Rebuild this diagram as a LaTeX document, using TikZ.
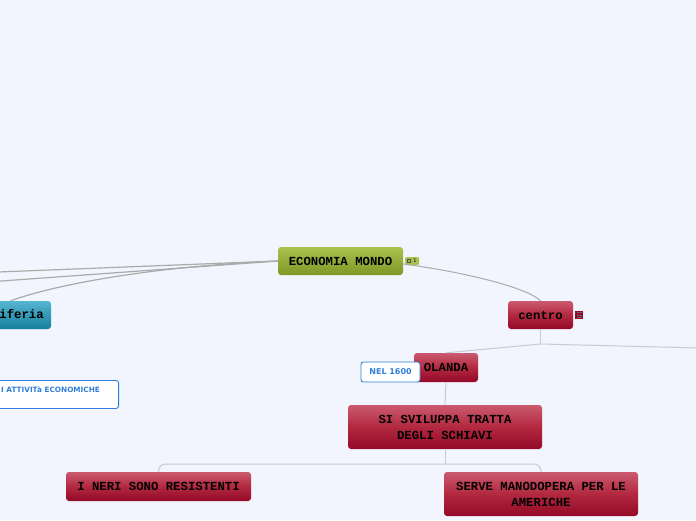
\documentclass[tikz,border=0pt]{standalone}
\usepackage{fontspec}
\setmonofont{Liberation Mono}
\setsansfont{DejaVu Sans}
\usepackage{tikz}
\usetikzlibrary{calc, positioning}

\definecolor{bgpage}{HTML}{F2F5FD}
\definecolor{redtop}{HTML}{CB5A6E}
\definecolor{redmid}{HTML}{B2283F}
\definecolor{redbot}{HTML}{940A28}
\definecolor{greentop}{HTML}{AAC24E}
\definecolor{greenbot}{HTML}{7E9826}
\definecolor{cyantop}{HTML}{55B6D1}
\definecolor{cyanbot}{HTML}{167E9A}
\definecolor{noteblue}{HTML}{2F7FDA}
\definecolor{linkgray}{HTML}{ABABAB}
\definecolor{sublinkgray}{HTML}{C7CAD3}

\begin{document}
\begin{tikzpicture}[
        x=1pt, y=-1pt,
        boxtext/.style={font=\ttfamily\bfseries\fontsize{12.3}{16}\selectfont, text=black, align=center},
        topic/.style={boxtext, rounded corners=3pt, inner sep=0pt},
        redtopic/.style={topic, top color=redtop, bottom color=redbot, middle color=redmid},
        greentopic/.style={topic, top color=greentop, bottom color=greenbot},
        cyantopic/.style={topic, top color=cyantop, bottom color=cyanbot},
        note/.style={draw=noteblue, fill=white, rounded corners=2.5pt, line width=0.9pt, inner sep=0pt},
        notetext/.style={font=\sffamily\bfseries, text=noteblue},
        link/.style={draw=linkgray, line width=1.2pt},
        sublink/.style={draw=sublinkgray, line width=1pt}
    ]
    \fill[bgpage] (0,0) rectangle (696,520);
    \useasboundingbox (0,0) rectangle (696,520);

    % ================= Centre =================
    \node[greentopic, minimum width=125, minimum height=28] (eco) at (340.5,261) {ECONOMIA MONDO};
    \node[fill=greentop, rounded corners=1pt, minimum width=14, minimum height=8, inner sep=0pt] (ecoicon) at (412,261) {};
    \draw[black!70, line width=0.5pt] (407.5,259) rectangle (410.5,262.5);
    \node[font=\sffamily\fontsize{5}{5}\selectfont, inner sep=0pt] (ecocount) at (415,261) {1};

    % off-screen ends
    \coordinate (offA) at (-40,273.5);
    \coordinate (offB) at (-40,284);

    % ================= Left side =================
    \node[cyantopic, minimum width=81, minimum height=28] (peri) at (10.5,315) {periferia};
    \node[note, minimum width=160, minimum height=28, anchor=north east] (attiv) at (119,380) {};
    \node[notetext, font=\sffamily\bfseries\fontsize{7.3}{8}\selectfont, anchor=west, inner sep=0pt] (attivtxt) at (1,390) {I ATTIVITà ECONOMICHE};

    \draw[link] (eco.west) -- (offA);
    \draw[link] (eco.west) -- (offB);
    \draw[link] (eco.west) .. controls (160,266) and (60,283) .. (peri.north);

    % ================= Right side =================
    \node[redtopic, minimum width=65, minimum height=28] (centro) at (540.5,315) {centro};
    \node[fill=redbot, minimum width=8, minimum height=8, inner sep=0pt] (centroicon) at (579,315) {};
    \foreach \yy in {312.5, 315, 317.5}
        \draw[black!60, line width=0.5pt] (576.5,\yy) -- (581.5,\yy);

    \draw[link, line width=1pt] ([yshift=-3pt]eco.east) .. controls (465,272) and (528,288) .. (centro.north);

    \node[redtopic, minimum width=64, minimum height=29] (olanda) at (446,367.5) {OLANDA};
    \node[note, minimum width=59, minimum height=20] (nel) at (390.5,372) {};
    \node[notetext, font=\sffamily\bfseries\fontsize{8}{8}\selectfont] (neltxt) at (nel.center) {NEL 1600};

    \coordinate (cfork) at (540.5,344);
    \coordinate (offC) at (720,348.5);
    \draw[sublink] (centro.south) -- (cfork);
    \draw[sublink] (cfork) -- (olanda.north);
    \draw[sublink] (cfork) -- (offC);

    \node[redtopic, minimum width=194, minimum height=44] (tratta) at (445,427) {SI SVILUPPA TRATTA\\DEGLI SCHIAVI};
    \draw[sublink] (olanda.south) -- (tratta.north);

    % ================= Bottom =================
    \node[redtopic, minimum width=185, minimum height=29] (neri) at (158.5,486.5) {I NERI SONO RESISTENTI};
    \node[redtopic, minimum width=194, minimum height=44] (serve) at (541,494) {SERVE MANODOPERA PER LE\\AMERICHE};

    \coordinate (tfork) at (445,464);
    \draw[sublink] (tratta.south) -- (tfork);
    \draw[sublink, rounded corners=7pt] (tfork) -| (neri.north);
    \draw[sublink, rounded corners=7pt] (tfork) -| (serve.north);

\end{tikzpicture}
\end{document}
